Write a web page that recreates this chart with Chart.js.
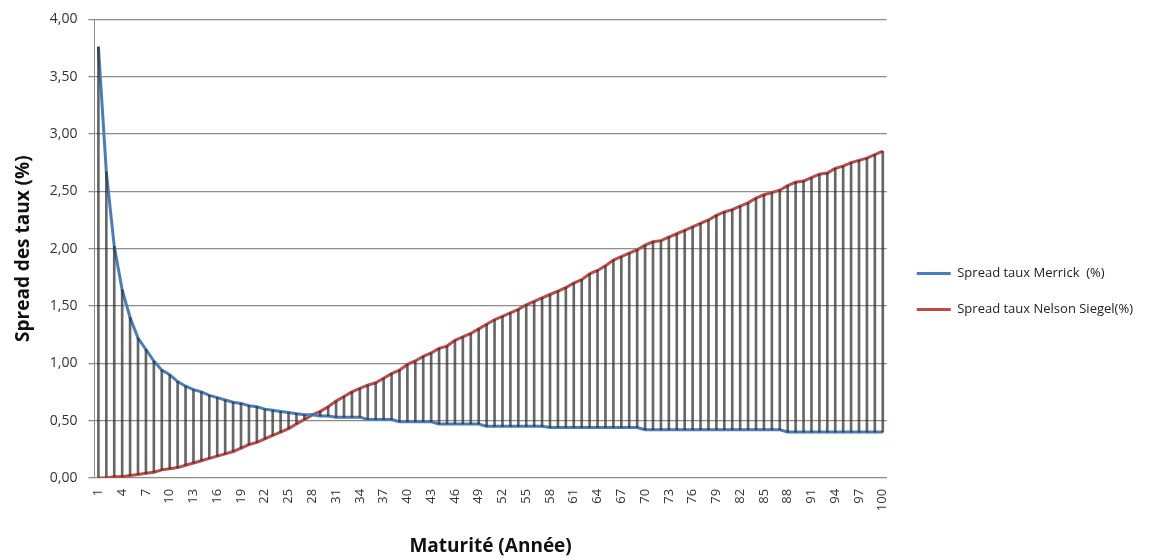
<!DOCTYPE html>
<html>
<head>
<meta charset="utf-8">
<script src="https://cdn.jsdelivr.net/npm/chart.js@4.4.0/dist/chart.umd.min.js"></script>
<style>
  html, body { margin: 0; background: #fff; }
  #wrap { width: 1161px; height: 558px; }
</style>
</head>
<body>
<div id="wrap"><canvas id="c" width="1161" height="558"></canvas></div>
<script>
// maturités 1..100 (années)
const maturites = [1,2,3,4,5,6,7,8,9,10,11,12,13,14,15,16,17,18,19,20,
  21,22,23,24,25,26,27,28,29,30,31,32,33,34,35,36,37,38,39,40,
  41,42,43,44,45,46,47,48,49,50,51,52,53,54,55,56,57,58,59,60,
  61,62,63,64,65,66,67,68,69,70,71,72,73,74,75,76,77,78,79,80,
  81,82,83,84,85,86,87,88,89,90,91,92,93,94,95,96,97,98,99,100];

// labels shown under the axis
const shownTicks = [1,4,7,10,13,16,19,22,25,28,31,34,37,40,43,46,49,52,55,58,61,64,67,70,73,76,79,82,85,88,91,94,97,100];

const merrick = [3.76,2.67,2.02,1.64,1.40,1.22,1.12,1.02,0.94,0.90,
  0.84,0.80,0.77,0.75,0.72,0.70,0.68,0.66,0.65,0.63,
  0.62,0.60,0.59,0.58,0.57,0.56,0.55,0.55,0.54,0.54,
  0.53,0.53,0.53,0.53,0.51,0.51,0.51,0.51,0.49,0.49,
  0.49,0.49,0.49,0.47,0.47,0.47,0.47,0.47,0.47,0.45,
  0.45,0.45,0.45,0.45,0.45,0.45,0.45,0.44,0.44,0.44,
  0.44,0.44,0.44,0.44,0.44,0.44,0.44,0.44,0.44,0.42,
  0.42,0.42,0.42,0.42,0.42,0.42,0.42,0.42,0.42,0.42,
  0.42,0.42,0.42,0.42,0.42,0.42,0.42,0.40,0.40,0.40,
  0.40,0.40,0.40,0.40,0.40,0.40,0.40,0.40,0.40,0.40];

const nelsonSiegel = [0.00,0.00,0.01,0.01,0.02,0.03,0.04,0.05,0.07,0.08,
  0.09,0.11,0.13,0.15,0.17,0.19,0.21,0.23,0.26,0.29,
  0.31,0.34,0.37,0.40,0.43,0.47,0.51,0.55,0.58,0.62,
  0.67,0.71,0.75,0.78,0.81,0.83,0.87,0.91,0.94,0.99,
  1.02,1.06,1.09,1.13,1.15,1.20,1.23,1.26,1.30,1.34,
  1.38,1.41,1.44,1.47,1.51,1.54,1.57,1.60,1.63,1.66,
  1.70,1.73,1.78,1.81,1.85,1.90,1.93,1.96,1.99,2.03,
  2.06,2.07,2.10,2.13,2.16,2.19,2.22,2.25,2.29,2.32,
  2.34,2.37,2.40,2.44,2.47,2.49,2.51,2.55,2.58,2.59,
  2.62,2.65,2.66,2.70,2.72,2.75,2.77,2.79,2.82,2.85];

const seriesNames = ['Spread taux Merrick  (%)', 'Spread taux Nelson Siegel(%)'];
const seriesColors = ['#4a7ebb', '#be4b48'];

// high-low lines between the two series
const ecarts = merrick.map((m, i) => [Math.min(m, nelsonSiegel[i]), Math.max(m, nelsonSiegel[i])]);

const FONT = 'Open Sans';

new Chart(document.getElementById('c'), {
  data: {
    labels: maturites,
    datasets: [
      { type: 'line', label: seriesNames[0], data: merrick, borderColor: seriesColors[0], backgroundColor: seriesColors[0],
        borderWidth: 3, pointRadius: 0, tension: 0, order: 1 },
      { type: 'line', label: seriesNames[1], data: nelsonSiegel, borderColor: seriesColors[1], backgroundColor: seriesColors[1],
        borderWidth: 3, pointRadius: 0, tension: 0, order: 1 },
      { type: 'bar', label: 'hl', data: ecarts, backgroundColor: 'rgba(45,45,45,0.72)', barThickness: 2, order: 0 }
    ]
  },
  options: {
    responsive: false,
    animation: false,
    devicePixelRatio: 1,
    layout: { padding: { top: 17, right: 18, bottom: 0, left: 12 } },
    plugins: {
      tooltip: { enabled: false },
      legend: {
        position: 'right',
        maxWidth: 320,
        // empty title only pushes the two items down a little
        title: { display: true, text: '', font: { size: 1, lineHeight: 1 }, padding: { top: 7, bottom: 0 } },
        labels: {
          filter: it => it.datasetIndex < 2,
          usePointStyle: true, pointStyle: 'line', pointStyleWidth: 34,
          padding: 23, color: '#222',
          font: { family: FONT, size: 13 }
        }
      }
    },
    scales: {
      x: {
        grid: { display: false },
        border: { color: '#8c8c8c', width: 1 },
        ticks: {
          autoSkip: false, minRotation: 90, maxRotation: 90,
          color: '#333', font: { family: FONT, size: 13 },
          callback: (v, i) => shownTicks.includes(maturites[i]) ? String(maturites[i]) : ''
        },
        title: { display: true, text: 'Maturité (Année)', color: '#111',
          font: { family: FONT, size: 19, weight: 'bold' }, padding: { top: 21, bottom: 0 } }
      },
      y: {
        min: 0, max: 4,
        ticks: { stepSize: 0.5, color: '#333', font: { family: FONT, size: 14 }, padding: 11,
          callback: v => v.toFixed(2).replace('.', ',') },
        grid: { color: '#8c8c8c', lineWidth: 1.3, tickLength: 6 },
        border: { color: '#8c8c8c', width: 1 },
        title: { display: true, text: 'Spread des taux (%)', color: '#111',
          font: { family: FONT, size: 19, weight: 'bold' }, padding: { top: 0, bottom: 4 } }
      },
      // empty right axis: a small gap between plot and legend
      gap: {
        position: 'right', axis: 'y',
        grid: { display: false }, border: { display: false }, ticks: { display: false },
        afterFit: s => { s.width = 7; }
      }
    }
  }
});
</script>
</body>
</html>
